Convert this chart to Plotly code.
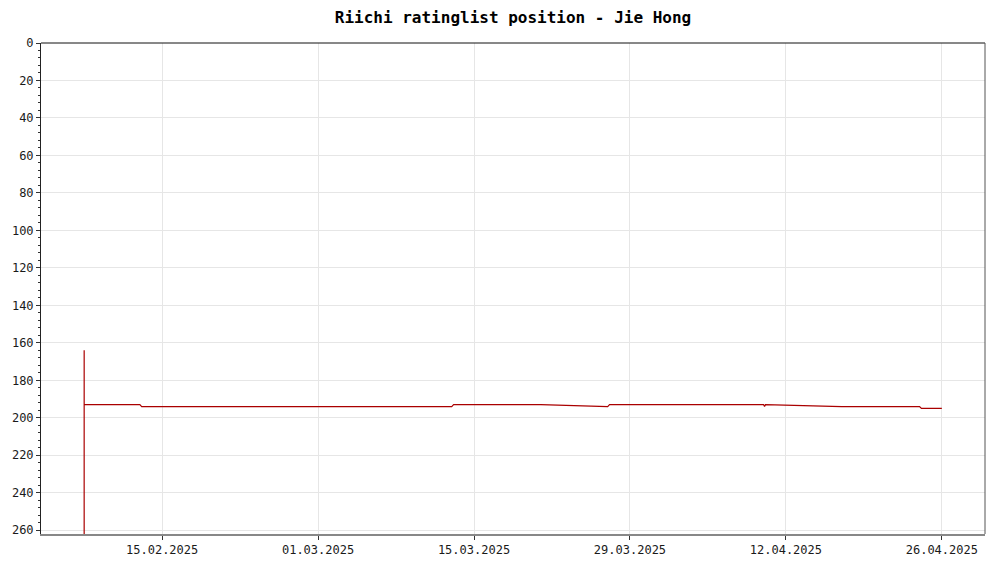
import plotly.graph_objects as go

# Data: rating list position over time
dates = [
    "2025-02-08 00:00", "2025-02-08 00:01", "2025-02-08 00:02",
    "2025-02-13 00:00", "2025-02-13 04:00",
    "2025-03-13 00:00", "2025-03-13 04:00",
    "2025-03-21 00:00", "2025-03-27 00:00", "2025-03-27 04:00",
    "2025-04-10 00:00", "2025-04-10 02:00", "2025-04-10 04:00",
    "2025-04-17 00:00",
    "2025-04-24 00:00", "2025-04-24 04:00",
    "2025-04-26 00:00",
]
positions = [
    400, 164, 193,
    193, 194,
    194, 193,
    193, 194, 193,
    193, 194, 193,
    194,
    194, 195,
    195,
]

x_tickvals = ["2025-02-15", "2025-03-01", "2025-03-15", "2025-03-29", "2025-04-12", "2025-04-26"]
x_ticktext = ["15.02.2025", "01.03.2025", "15.03.2025", "29.03.2025", "12.04.2025", "26.04.2025"]
y_tickvals = list(range(0, 261, 20))

font_family = "DejaVu Sans Mono"

fig = go.Figure()
fig.add_trace(go.Scatter(
    x=dates, y=positions, mode="lines",
    line=dict(color="#aa0000", width=1.2),
    hoverinfo="x+y", showlegend=False,
))

fig.update_layout(
    width=1000, height=563,
    margin=dict(l=41, r=15, t=43, b=29, autoexpand=False),
    paper_bgcolor="white", plot_bgcolor="white",
    title=dict(text="<b>Riichi ratinglist position - Jie Hong</b>",
               xref="paper", x=0.5, xanchor="center",
               y=1 - 17 / 563, yanchor="middle",
               font=dict(family=font_family, size=16, color="black")),
    font=dict(family=font_family, size=12, color="#1a1a1a"),
    xaxis=dict(
        type="date",
        range=["2025-02-04 03:00", "2025-04-29 21:00"],
        tickvals=x_tickvals, ticktext=x_ticktext,
        showgrid=True, gridcolor="#e6e6e6", gridwidth=1,
        showline=True, linecolor="#888", linewidth=2,
        ticks="outside", ticklen=4, tickcolor="#333",
        zeroline=False, automargin=False,
    ),
    yaxis=dict(
        range=[262, 0], autorange=False,
        tickvals=y_tickvals,
        showgrid=True, gridcolor="#e6e6e6", gridwidth=1,
        showline=True, linecolor="#222", linewidth=1,
        ticks="outside", ticklen=4, tickcolor="#333",
        minor=dict(dtick=4, ticks="outside", ticklen=2, tickcolor="#333", showgrid=False),
        zeroline=False, automargin=False,
    ),
    shapes=[
        dict(type="line", xref="paper", yref="paper", x0=0, x1=1, y0=1, y1=1,
             line=dict(color="#111", width=1)),
        dict(type="line", xref="paper", yref="paper", x0=1, x1=1, y0=0, y1=1,
             line=dict(color="#555", width=1)),
    ],
)

fig.write_html("out.html",
               config={"displayModeBar": False},
               post_script="document.body.style.margin='0';document.body.style.overflow='hidden';")
